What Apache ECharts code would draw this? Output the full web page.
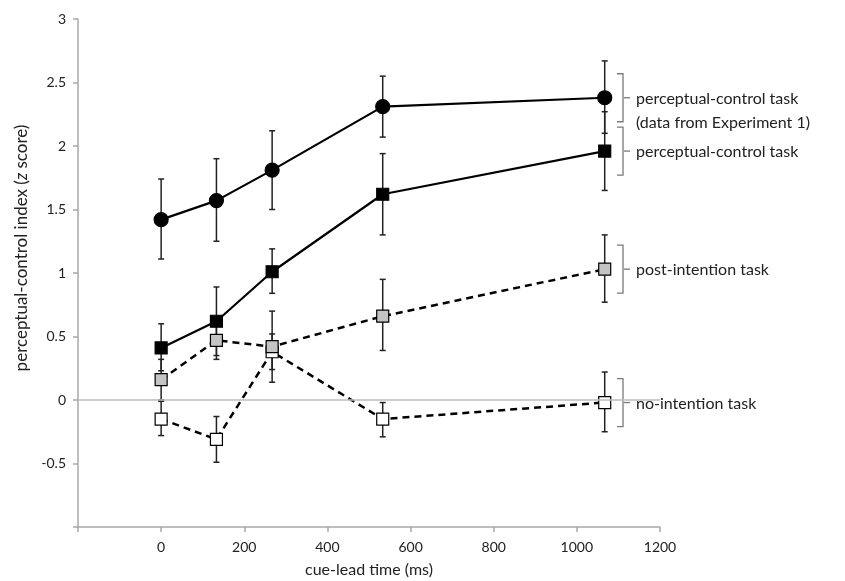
<!DOCTYPE html>
<html>
<head>
<meta charset="utf-8">
<script src="https://cdn.jsdelivr.net/npm/echarts@6/dist/echarts.min.js"></script>
<style>
  html, body { margin: 0; padding: 0; background: #fff; }
  #chart { width: 845px; height: 581px; }
</style>
</head>
<body>
<div id="chart"></div>
<script>
// cue-lead times (ms)
const cueLead = [0, 133, 267, 533, 1067]

// perceptual-control task (data from Experiment 1)
const exp1Mean = [1.42, 1.57, 1.81, 2.31, 2.38]
const exp1Lo = [1.11, 1.25, 1.50, 2.07, 2.10]
const exp1Hi = [1.74, 1.90, 2.12, 2.55, 2.67]

// perceptual-control task
const pcMean = [0.41, 0.62, 1.01, 1.62, 1.96]
const pcLo = [0.23, 0.35, 0.84, 1.30, 1.65]
const pcHi = [0.60, 0.89, 1.19, 1.94, 2.27]

// post-intention task
const postMean = [0.16, 0.47, 0.42, 0.66, 1.03]
const postLo = [0.00, 0.32, 0.14, 0.39, 0.77]
const postHi = [0.32, 0.62, 0.70, 0.95, 1.30]

// no-intention task
const noMean = [-0.15, -0.31, 0.38, -0.15, -0.02]
const noLo = [-0.28, -0.49, 0.24, -0.29, -0.25]
const noHi = [-0.01, -0.13, 0.52, -0.02, 0.22]

const labels = [
  { text: 'perceptual-control task\n(data from Experiment 1)', mean: exp1Mean },
  { text: 'perceptual-control task', mean: pcMean },
  { text: 'post-intention task', mean: postMean },
  { text: 'no-intention task', mean: noMean }
]

const font = 'Lato, "Open Sans", sans-serif'
const axisGray = '#a8a8a8'

function pts (mean) {
  return cueLead.map((x, i) => [x, mean[i]])
}
function bars (lo, hi) {
  return cueLead.map((x, i) => [x, lo[i], hi[i]])
}

// error bars drawn through the axes
function errorSeries (lo, hi) {
  return {
    type: 'custom',
    silent: true,
    z: 1,
    data: bars(lo, hi),
    renderItem (params, api) {
      let x = api.value(0)
      let a = api.coord([x, api.value(1)])
      let b = api.coord([x, api.value(2)])
      let w = 3
      let style = { stroke: '#222', lineWidth: 1.5 }
      return {
        type: 'group',
        children: [
          { type: 'line', shape: { x1: a[0], y1: a[1], x2: b[0], y2: b[1] }, style },
          { type: 'line', shape: { x1: a[0] - w, y1: a[1], x2: a[0] + w, y2: a[1] }, style },
          { type: 'line', shape: { x1: b[0] - w, y1: b[1], x2: b[0] + w, y2: b[1] }, style }
        ]
      }
    }
  }
}

function lineSeries (mean, symbol, size, fill, dashed, z) {
  return {
    type: 'line',
    data: pts(mean),
    symbol: symbol,
    symbolSize: size,
    showAllSymbol: true,
    z: z,
    lineStyle: { color: '#000', width: dashed ? 2.5 : 2.2, type: dashed ? [7, 5] : 'solid' },
    itemStyle: { color: fill, borderColor: '#000', borderWidth: 1.2, opacity: 1 },
    emphasis: { disabled: true },
    animation: false
  }
}

let myChart = echarts.init(document.getElementById('chart'))

let option = {
  backgroundColor: '#fff',
  animation: false,
  grid: { left: 78, right: 185, top: 19, bottom: 54, outerBoundsMode: 'none', containLabel: false },
  xAxis: {
    type: 'value',
    min: -200,
    max: 1200,
    interval: 200,
    name: 'cue-lead time (ms)',
    nameLocation: 'middle',
    nameGap: 35,
    nameTextStyle: { fontFamily: font, fontSize: 16, color: '#222' },
    axisLine: { onZero: false, lineStyle: { color: axisGray, width: 1.5 } },
    axisTick: { length: 5, lineStyle: { color: axisGray, width: 1.5 } },
    axisLabel: {
      fontFamily: font, fontSize: 14, color: '#222', margin: 13,
      formatter: v => (v < 0 ? '' : String(v))
    },
    splitLine: { show: false }
  },
  yAxis: {
    type: 'value',
    min: -1,
    max: 3,
    interval: 0.5,
    name: '{a|perceptual-control index (}{i|z}{a| score)}',
    nameLocation: 'middle',
    nameGap: 46,
    nameTextStyle: {
      fontFamily: font,
      fontSize: 17,
      color: '#222',
      padding: [0, 0, 0, 50],
      rich: {
        a: { fontFamily: font, fontSize: 17, color: '#222' },
        i: { fontFamily: font, fontSize: 17, color: '#222', fontStyle: 'italic' }
      }
    },
    axisLine: { onZero: false, lineStyle: { color: axisGray, width: 1.5 } },
    axisTick: { length: 5, lineStyle: { color: axisGray, width: 1.5 } },
    axisLabel: {
      fontFamily: font, fontSize: 14, color: '#222', margin: 12,
      formatter: v => (v <= -1 ? '' : String(v))
    },
    splitLine: { show: false }
  },
  series: [
    {
      type: 'line',
      data: [],
      markLine: {
        silent: true,
        symbol: 'none',
        label: { show: false },
        lineStyle: { color: '#bdbdbd', width: 1.5, type: 'solid' },
        data: [{ yAxis: 0 }]
      }
    },
    errorSeries(noLo, noHi),
    errorSeries(postLo, postHi),
    errorSeries(pcLo, pcHi),
    errorSeries(exp1Lo, exp1Hi),
    lineSeries(noMean, 'rect', 12, '#fff', true, 3),
    lineSeries(postMean, 'rect', 12, '#c4c4c4', true, 4),
    lineSeries(pcMean, 'rect', 12, '#000', false, 5),
    lineSeries(exp1Mean, 'circle', 14, '#000', false, 6)
  ]
}

myChart.setOption(option)

// brackets and labels at the right, centred on each series' last point
let graphics = []
let bx = 623
labels.forEach(l => {
  let last = l.mean.length - 1
  let y = myChart.convertToPixel({ gridIndex: 0 }, [cueLead[last], l.mean[last]])[1]
  let h = 24
  let s = { stroke: '#7a7a7a', lineWidth: 1.3, fill: null }
  graphics.push({
    type: 'polyline',
    silent: true,
    shape: { points: [[bx - 6, y - h], [bx, y - h], [bx, y + h], [bx - 6, y + h]] },
    style: s
  })
  graphics.push({
    type: 'line',
    silent: true,
    shape: { x1: bx + 1, y1: y, x2: bx + 7, y2: y },
    style: s
  })
  graphics.push({
    type: 'text',
    silent: true,
    x: 636,
    y: y - 11,
    style: {
      text: l.text,
      fontFamily: font,
      fontSize: 16,
      lineHeight: 24,
      fill: '#222',
      textVerticalAlign: 'top'
    }
  })
})
myChart.setOption({ graphic: graphics })
</script>
</body>
</html>
